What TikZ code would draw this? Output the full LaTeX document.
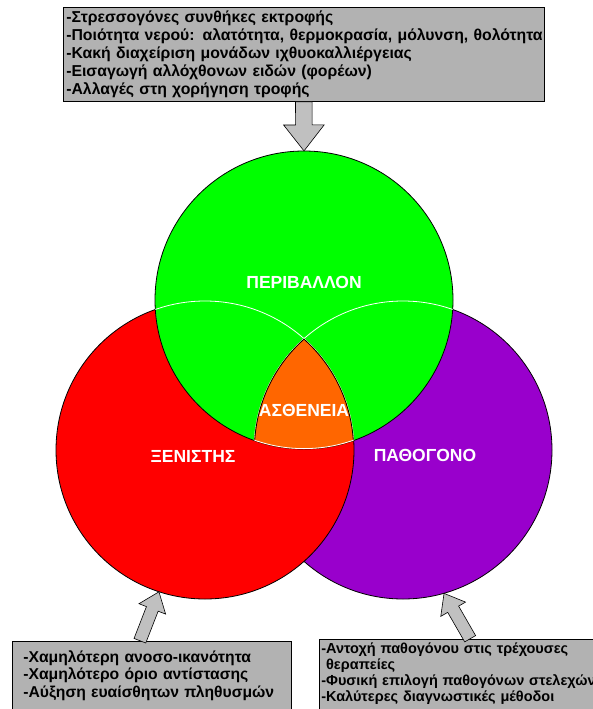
\documentclass[tikz,border=0pt]{standalone}
\usepackage{fontspec}
\setmainfont{Liberation Sans}
\newfontfamily\boldsans{Liberation Sans Bold}
\usetikzlibrary{calc}
\usetikzlibrary{shapes.arrows}
\usetikzlibrary{positioning}
\definecolor{envgreen}{RGB}{0,255,0}
\definecolor{hostred}{RGB}{255,0,0}
\definecolor{pathpurple}{RGB}{153,0,204}
\definecolor{disorange}{RGB}{255,102,0}
\definecolor{boxgray}{RGB}{178,178,178}
\definecolor{arrowgray}{RGB}{192,192,192}
\tikzset{
    ring/.style={circle, draw=black, line width=0.8pt, minimum size=298pt, inner sep=0pt},
    ringlabel/.style={font=\boldsans\fontsize{17.5}{20}\selectfont, text=white},
    factbox/.style={draw=black, fill=boxgray, line width=0.6pt, align=left,
        anchor=north west, font=\boldsans\fontsize{15.8}{18}\selectfont},
    blockarrow/.style 2 args={ % #1 = shaft half width, #2 = head extend
        single arrow, draw=black, fill=arrowgray, line width=0.6pt,
        inner xsep=0pt, inner ysep=#1, single arrow head extend=#2,
        single arrow tip angle=76, anchor=tail
    }
}

\begin{document}
\begin{tikzpicture}[x=1pt, y=-1pt]
\useasboundingbox (0,0) rectangle (592,709);

% ==== circles ====
\node[ring, fill=pathpurple] (path) at (403,450) {};
\node[ring, fill=hostred] (host) at (205,450) {};
\node[ring, fill=envgreen] (env) at (304,300) {};

% white arcs inside the green circle
\begin{scope}
    \clip (env.center) circle (149pt);
    \draw[white, line width=0.8pt] (host.center) circle (149pt);
    \draw[white, line width=0.8pt] (path.center) circle (149pt);
\end{scope}

% ==== common part ====
\begin{scope}
    \clip (env.center) circle (149pt);
    \clip (host.center) circle (149pt);
    \clip (path.center) circle (149pt);
    \fill[disorange] (env.center) circle (149pt);
    \draw[black, line width=1.6pt] (host.center) circle (149pt);
    \draw[black, line width=1.6pt] (path.center) circle (149pt);
    \draw[white, line width=1.6pt] (env.center) circle (149pt);
\end{scope}

% labels
\node[ringlabel] (envlabel) at (304,282) {ΠΕΡΙΒΑΛΛΟΝ};
\node[ringlabel] (hostlabel) at (193,456) {ΞΕΝΙΣΤΗΣ};
\node[ringlabel] (pathlabel) at (425,455) {ΠΑΘΟΓΟΝΟ};
\node[ringlabel] (dislabel) at (304,410) {ΑΣΘΕΝΕΙΑ};

% ==== boxes ====
\node[factbox, inner xsep=3pt, inner ysep=3pt, text width=475pt, minimum height=94pt] (envbox) at (63,7) {%
-Στρεσσογόνες συνθήκες εκτροφής\\
\mbox{-Ποιότητα νερού: αλατότητα, θερμοκρασία, μόλυνση, θολότητα}\\
-Κακή διαχείριση μονάδων ιχθυοκαλλιέργειας\\
-Εισαγωγή αλλόχθονων ειδών (φορέων)\\
-Αλλαγές στη χορήγηση τροφής};

\node[factbox, font=\boldsans\fontsize{15.7}{17.5}\selectfont, inner xsep=11pt, inner ysep=9pt,
      text width=257pt] (hostbox) at (12,641) {%
-Χαμηλότερη ανοσο-ικανότητα\\
-Χαμηλότερο όριο αντίστασης\\
-Αύξηση ευαίσθητων πληθυσμών};

\node[factbox, font=\boldsans\fontsize{14.5}{16}\selectfont, inner xsep=2pt, inner ysep=4pt,
      text width=298pt] (pathbox) at (319,639) {%
-Αντοχή παθογόνου στις τρέχουσες\\
\ θεραπείες\\
\mbox{-Φυσική επιλογή παθογόνων στελεχών}\\
-Καλύτερες διαγνωστικές μέθοδοι};

% ==== arrows ====
\coordinate (envtip) at (env.north);
\coordinate (hosttail) at ([xshift=-12pt]hostbox.north);
\coordinate (hosttip) at (host.-108);
\coordinate (pathtip) at (path.-74);

\path let \p1=($(envtip)-(envbox.south)$), \n1={atan2(\y1,\x1)}, \n2={veclen(\x1,\y1)} in
    node[blockarrow={8pt}{12pt}, rotate=\n1, minimum height=\n2] (envarrow) at (envbox.south) {};
\path let \p1=($(hosttip)-(hosttail)$), \n1={atan2(\y1,\x1)}, \n2={veclen(\x1,\y1)} in
    node[blockarrow={6pt}{8pt}, rotate=\n1, minimum height=\n2] (hostarrow) at (hosttail) {};
\path let \p1=($(pathtip)-(pathbox.north)$), \n1={atan2(\y1,\x1)}, \n2={veclen(\x1,\y1)} in
    node[blockarrow={6pt}{8pt}, rotate=\n1, minimum height=\n2] (patharrow) at (pathbox.north) {};

\end{tikzpicture}
\end{document}
